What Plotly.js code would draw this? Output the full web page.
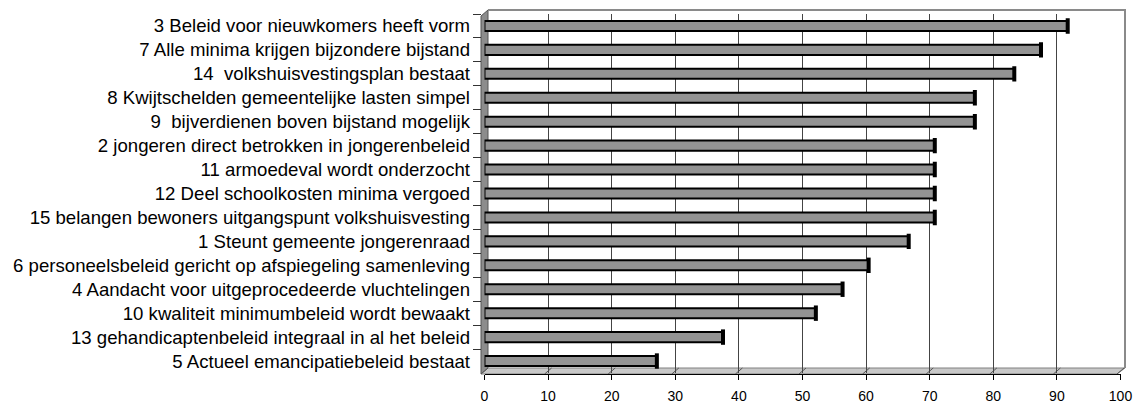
<!DOCTYPE html>
<html>
<head>
<meta charset="utf-8">
<script src="https://cdn.plot.ly/plotly-3.0.1.min.js"></script>
<style>html,body{margin:0;padding:0;background:#fff;}#chart{width:1140px;height:405px;}</style>
</head>
<body>
<div id="chart"></div>
<script>
// Categories, top to bottom as in the picture
const categories = [
  "3 Beleid voor nieuwkomers heeft vorm",
  "7 Alle minima krijgen bijzondere bijstand",
  "14\u00a0 volkshuisvestingsplan bestaat",
  "8 Kwijtschelden gemeentelijke lasten simpel",
  "9\u00a0 bijverdienen boven bijstand mogelijk",
  "2 jongeren direct betrokken in jongerenbeleid",
  "11 armoedeval wordt onderzocht",
  "12 Deel schoolkosten minima vergoed",
  "15 belangen bewoners uitgangspunt volkshuisvesting",
  "1 Steunt gemeente jongerenraad",
  "6 personeelsbeleid gericht op afspiegeling samenleving",
  "4 Aandacht voor uitgeprocedeerde vluchtelingen",
  "10 kwaliteit minimumbeleid wordt bewaakt",
  "13 gehandicaptenbeleid integraal in al het beleid",
  "5 Actueel emancipatiebeleid bestaat"
];
const values = [91.7, 87.5, 83.3, 77.1, 77.1, 70.8, 70.8, 70.8, 70.8, 66.7, 60.4, 56.3, 52.1, 37.5, 27.1];
const xTicks = [0, 10, 20, 30, 40, 50, 60, 70, 80, 90, 100];

// pixel -> paper helpers (plot paper spans x 481..1125, y 10..374)
const L = 481, T = 10, W = 644, H = 364;
const px = x => (x - L) / W;
const py = y => (T + H - y) / H;

const FONT = "Liberation Sans, Arial, sans-serif";

const traces = [
  {
    type: "bar", orientation: "h",
    x: values, y: categories,
    xaxis: "x", yaxis: "y",
    marker: {color: "#939393", line: {color: "#000", width: 2}},
    width: 0.42,
    hoverinfo: "skip"
  },
  {
    type: "scatter", mode: "markers",
    x: values, y: categories,
    xaxis: "x", yaxis: "y",
    marker: {symbol: "line-ns", size: 11, line: {color: "#000", width: 4}},
    hoverinfo: "skip"
  }
];

const shapes = [];
// left wall
shapes.push({type: "path", xref: "paper", yref: "paper", layer: "below",
  path: `M ${px(481)} ${py(16)} L ${px(488)} ${py(10)} L ${px(488)} ${py(368)} L ${px(481)} ${py(374)} Z`,
  fillcolor: "#8c8c8c", line: {color: "#555", width: 1}});
// floor
shapes.push({type: "path", xref: "paper", yref: "paper", layer: "below",
  path: `M ${px(481)} ${py(374)} L ${px(488)} ${py(368)} L ${px(1125)} ${py(368)} L ${px(1117)} ${py(374)} Z`,
  fillcolor: "#c8c8c8", line: {color: "#808080", width: 1}});
// back wall border (top + right)
shapes.push({type: "path", xref: "paper", yref: "paper", layer: "below",
  path: `M ${px(488)} ${py(10)} L ${px(1125)} ${py(10)} L ${px(1125)} ${py(368)}`,
  line: {color: "#8a8a8a", width: 2}});

const layout = {
  width: 1140, height: 405,
  margin: {l: L, r: 1140 - L - W, t: T, b: 405 - T - H, pad: 0},
  paper_bgcolor: "#fff", plot_bgcolor: "rgba(0,0,0,0)",
  showlegend: false,
  font: {family: FONT, color: "#000"},
  xaxis: {
    domain: [px(484.5), px(1120.5)], range: [0, 100],
    showgrid: false, showline: false, zeroline: false,
    showticklabels: false, ticks: "", anchor: "y", fixedrange: true
  },
  yaxis: {
    domain: [py(373), py(14)], type: "category",
    categoryorder: "array", categoryarray: categories,
    range: [categories.length - 0.5, -0.5],
    anchor: "free", position: 0,
    ticks: "outside", tickson: "boundaries", ticklen: 8, tickcolor: "#333", tickwidth: 1,
    ticklabelstandoff: 11,
    tickfont: {family: FONT, size: 18.6, color: "#000"},
    showgrid: false, showline: false, zeroline: false, fixedrange: true
  },
  // front axis with ticks and labels
  xaxis2: {
    overlaying: "x", domain: [px(481), px(1117)], range: [0, 100],
    anchor: "free", position: 0,
    tickmode: "array", tickvals: xTicks, ticktext: xTicks.map(String),
    ticks: "outside", ticklen: 5, tickcolor: "#000", tickwidth: 1,
    ticklabelstandoff: 4,
    showline: true, linecolor: "#000", linewidth: 1,
    showgrid: false, zeroline: false,
    tickfont: {family: FONT, size: 14, color: "#000"}, fixedrange: true
  },
  // back wall gridlines
  xaxis3: {
    overlaying: "x", domain: [px(488), px(1125)], range: [0, 100],
    anchor: "y3", tickmode: "array", tickvals: xTicks,
    showgrid: true, gridcolor: "#444", gridwidth: 1,
    showticklabels: false, ticks: "", showline: false, zeroline: false, fixedrange: true
  },
  yaxis3: {
    overlaying: "y", domain: [py(368), py(10)], range: [0, 1],
    anchor: "x3", showgrid: false, showticklabels: false, ticks: "",
    showline: false, zeroline: false, fixedrange: true
  },
  shapes: shapes
};

// floor diagonal tick marks from the front axis to the back wall
xTicks.forEach(v => {
  const fx = 481 + v * 6.36;
  shapes.push({type: "line", xref: "paper", yref: "paper", layer: "below",
    x0: px(fx), y0: py(374), x1: px(fx + 7), y1: py(368),
    line: {color: "#555", width: 1}});
});

traces.push({type: "scatter", x: [], y: [], xaxis: "x3", yaxis: "y3", hoverinfo: "skip"});
traces.push({type: "scatter", x: [], y: [], xaxis: "x2", yaxis: "y", hoverinfo: "skip"});

Plotly.newPlot("chart", traces, layout, {staticPlot: true, displayModeBar: false});
</script>
</body>
</html>
